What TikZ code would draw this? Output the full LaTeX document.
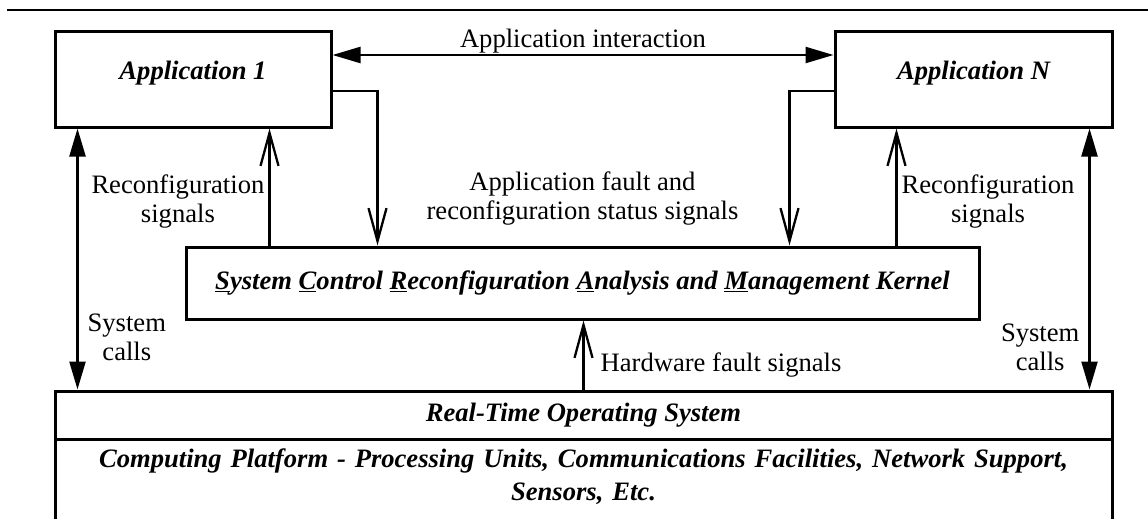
\documentclass[tikz,border=0pt]{standalone}
\usepackage{fontspec}
\setmainfont{Liberation Serif}
\usetikzlibrary{arrows.meta,positioning}
\newcommand{\diagfont}{\fontsize{26.6pt}{29pt}\selectfont}
\tikzset{
  layer/.style={draw, line width=3pt, inner sep=0pt, align=center, font=\diagfont\bfseries\itshape},
  note/.style={align=center, inner sep=4pt, font=\diagfont},
  sig/.style={-{Straight Barb[length=33pt,width=18pt]}, line width=2.3pt},
  call/.style={{Triangle[length=28pt,width=16pt]}-{Triangle[length=28pt,width=16pt]}, line width=2.3pt},
}
\begin{document}
\begin{tikzpicture}[x=1pt,y=-1pt]
\useasboundingbox (0,0) rectangle (1148,519);
\clip (0,0) rectangle (1148,519);
\draw[line width=2pt] (7,10) -- (1148,10);
% applications
\node[layer, minimum width=276pt, minimum height=95pt, text height=18pt, text depth=18pt] (app1) at (193,79.5) {Application 1};
\node[layer, minimum width=277pt, minimum height=95pt, text height=18pt, text depth=18pt] (appn) at (973.5,79.5) {Application N};
% kernel and platform layers
\node[layer, minimum width=793pt, minimum height=72pt] (kernel) at (582.5,283)
  {\underline{S}ystem \underline{C}ontrol \underline{R}econfiguration \underline{A}nalysis and \underline{M}anagement Kernel};
\node[layer, minimum width=1057pt, minimum height=48pt] (rtos) at (583.5,415) {Real-Time Operating System};
\node[layer, below=-3pt of rtos, minimum width=1057pt, text width=1040pt, inner ysep=10pt, text depth=70pt,
  font=\fontsize{26.6pt}{33pt}\selectfont\bfseries\itshape] (plat)
  {Computing Platform - Processing Units, Communications Facilities, Network Support,\\ Sensors, Etc.};
% arrow feet
\coordinate (rc1) at ([xshift=85pt]kernel.north west);
\coordinate (rcn) at ([xshift=-84pt]kernel.north east);
\coordinate (sc1) at ([xshift=24pt]app1.south west);
\coordinate (scn) at ([xshift=-24pt]appn.south east);
% connectors
\draw[call] ([yshift=24.5pt]app1.east) -- node[note, above, inner sep=1pt] (interlbl) {Application interaction} ([yshift=24.5pt]appn.west);
\draw[sig] ([yshift=-11.5pt]app1.east) -| ([xshift=193pt]kernel.north west);
\draw[sig] ([yshift=-11.5pt]appn.west) -| ([xshift=-191pt]kernel.north east);
\draw[sig] (rc1) -- node[note, left, pos=0.38] (rclbl1) {Reconfiguration\\signals} (rc1 |- app1.south);
\draw[sig] (rcn) -- node[note, right, pos=0.38] (rclbln) {Reconfiguration\\signals} (rcn |- appn.south);
\node[note] (faultlbl) at ([yshift=47pt]kernel.north) {Application fault and\\reconfiguration status signals};
\draw[call] (sc1) -- node[note, right, pos=0.8, inner xsep=9pt] (sclbl1) {System\\calls} (sc1 |- rtos.north);
\draw[call] (scn) -- node[note, left, pos=0.84, inner xsep=9pt] (sclbln) {System\\calls} (scn |- rtos.north);
\draw[sig] (rtos.north) -- node[note, right, pos=0.36, inner xsep=16pt] (hwlbl) {Hardware fault signals} (rtos.north |- kernel.south);
\end{tikzpicture}
\end{document}
